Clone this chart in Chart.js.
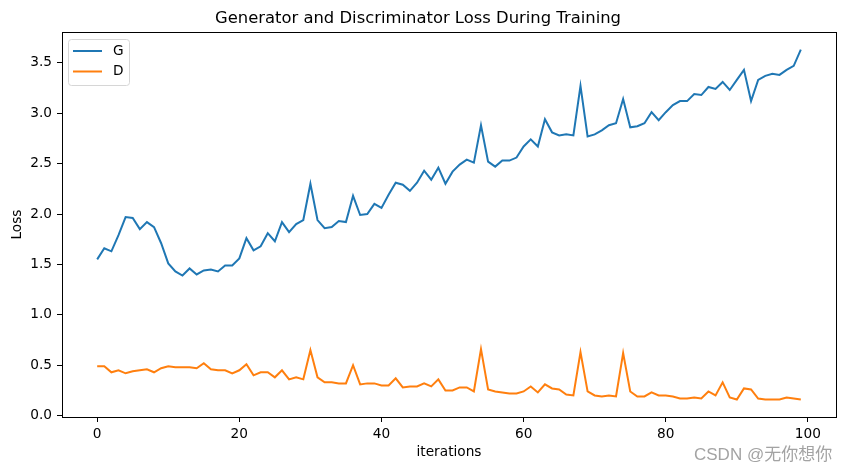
<!DOCTYPE html>
<html>
<head>
<meta charset="utf-8">
<script src="https://cdn.jsdelivr.net/npm/chart.js@4.4.1/dist/chart.umd.min.js"></script>
<style>
  html, body { margin: 0; padding: 0; background: #fff; }
  #wrap { position: relative; width: 846px; height: 470px; }
  #mark {
    position: absolute; left: 694px; top: 440px;
    font: 17px "Liberation Sans", "Noto Sans CJK SC", sans-serif;
    color: #a3a3a3; white-space: nowrap;
  }
</style>
</head>
<body>
<div id="wrap">
  <canvas id="lossChart" width="846" height="470"></canvas>
  <div id="mark">CSDN @无你想你</div>
</div>
<script>
const G = [1.55, 1.66, 1.63, 1.79, 1.97, 1.96, 1.85, 1.92, 1.87, 1.71,
           1.51, 1.43, 1.39, 1.46, 1.40, 1.44, 1.45, 1.43, 1.49, 1.49,
           1.56, 1.76, 1.64, 1.68, 1.81, 1.73, 1.92, 1.82, 1.90, 1.94,
           2.30, 1.94, 1.86, 1.87, 1.93, 1.92, 2.18, 1.99, 2.00, 2.10,
           2.06, 2.19, 2.31, 2.29, 2.23, 2.31, 2.43, 2.34, 2.46, 2.30,
           2.42, 2.49, 2.54, 2.51, 2.88, 2.52, 2.47, 2.53, 2.53, 2.56,
           2.67, 2.74, 2.67, 2.94, 2.81, 2.78, 2.79, 2.78, 3.27, 2.77,
           2.79, 2.83, 2.88, 2.90, 3.14, 2.86, 2.87, 2.90, 3.01, 2.93,
           3.01, 3.08, 3.12, 3.12, 3.19, 3.18, 3.26, 3.24, 3.31, 3.23,
           3.33, 3.43, 3.12, 3.33, 3.37, 3.39, 3.38, 3.43, 3.47, 3.63];

const D = [0.49, 0.49, 0.43, 0.45, 0.42, 0.44, 0.45, 0.46, 0.43, 0.47,
           0.49, 0.48, 0.48, 0.48, 0.47, 0.52, 0.46, 0.45, 0.45, 0.42,
           0.45, 0.51, 0.40, 0.43, 0.43, 0.38, 0.45, 0.36, 0.38, 0.36,
           0.65, 0.38, 0.33, 0.33, 0.32, 0.32, 0.50, 0.31, 0.32, 0.32,
           0.30, 0.30, 0.37, 0.28, 0.29, 0.29, 0.32, 0.29, 0.36, 0.25,
           0.25, 0.28, 0.28, 0.24, 0.66, 0.26, 0.24, 0.23, 0.22, 0.22,
           0.24, 0.29, 0.23, 0.31, 0.27, 0.26, 0.21, 0.20, 0.63, 0.24,
           0.20, 0.19, 0.20, 0.19, 0.62, 0.24, 0.19, 0.19, 0.23, 0.20,
           0.20, 0.19, 0.17, 0.17, 0.18, 0.17, 0.24, 0.20, 0.33, 0.18,
           0.16, 0.27, 0.26, 0.17, 0.16, 0.16, 0.16, 0.18, 0.17, 0.16];

const iterations = Array.from({ length: G.length }, (_, i) => i);
const xTicks = [0, 20, 40, 60, 80, 100];
const yTicks = [0.0, 0.5, 1.0, 1.5, 2.0, 2.5, 3.0, 3.5];

const FONT = '"DejaVu Sans", sans-serif';

// matplotlib-style frame + legend in the upper left
const framePlugin = {
  id: 'frame',
  afterDatasetsDraw(chart) {
    const { ctx, chartArea: a } = chart;
    ctx.save();
    ctx.strokeStyle = '#000';
    ctx.lineWidth = 1;
    ctx.strokeRect(Math.round(a.left) + 0.5, Math.round(a.top) + 0.5,
                   Math.round(a.right - a.left), Math.round(a.bottom - a.top));

    const bx = 68, by = 39, bw = 61, bh = 46, r = 3;
    ctx.beginPath();
    ctx.roundRect(bx + 0.5, by + 0.5, bw, bh, r);
    ctx.fillStyle = 'rgba(255,255,255,0.8)';
    ctx.fill();
    ctx.strokeStyle = '#d6d6d6';
    ctx.stroke();

    ctx.font = '13.7px ' + FONT;
    ctx.textBaseline = 'middle';
    chart.data.datasets.forEach((ds, i) => {
      const y = 51 + i * 20.5;
      ctx.beginPath();
      ctx.moveTo(73, y);
      ctx.lineTo(102, y);
      ctx.strokeStyle = ds.borderColor;
      ctx.lineWidth = 2;
      ctx.stroke();
      ctx.fillStyle = '#000';
      ctx.fillText(ds.label, 113, y);
    });
    ctx.restore();
  }
};

new Chart(document.getElementById('lossChart').getContext('2d'), {
  type: 'line',
  data: {
    datasets: [
      {
        label: 'G',
        data: iterations.map((x, i) => ({ x: x, y: G[i] })),
        borderColor: '#1f77b4',
        borderWidth: 2,
        pointRadius: 0,
        tension: 0
      },
      {
        label: 'D',
        data: iterations.map((x, i) => ({ x: x, y: D[i] })),
        borderColor: '#ff7f0e',
        borderWidth: 2,
        pointRadius: 0,
        tension: 0
      }
    ]
  },
  options: {
    responsive: false,
    animation: false,
    devicePixelRatio: 1,
    layout: { padding: { left: 0, right: 10, top: 0, bottom: 0 } },
    plugins: {
      legend: { display: false },
      tooltip: { enabled: false },
      title: {
        display: true,
        text: 'Generator and Discriminator Loss During Training',
        color: '#000',
        font: { family: FONT, size: 16.4, weight: 'normal' },
        padding: { top: 9, bottom: 3.5 }
      }
    },
    scales: {
      x: {
        type: 'linear',
        min: -4.95,
        max: 103.95,
        afterBuildTicks: (s) => { s.ticks = xTicks.map(v => ({ value: v })); },
        afterFit: (s) => { s.height = 53; },
        grid: { drawOnChartArea: false, drawTicks: true, tickLength: 5, tickColor: '#000' },
        border: { display: true, color: '#000' },
        ticks: {
          autoSkip: false, maxRotation: 0, padding: 4, color: '#000',
          font: { family: FONT, size: 13.7 }
        },
        title: {
          display: true, text: 'iterations', color: '#000',
          font: { family: FONT, size: 13.7 },
          padding: { top: 0, bottom: 9 }
        }
      },
      y: {
        min: -0.0135,
        max: 3.8035,
        afterBuildTicks: (s) => { s.ticks = yTicks.map(v => ({ value: v })); },
        afterFit: (s) => { s.width = 62; },
        grid: { drawOnChartArea: false, drawTicks: true, tickLength: 5, tickColor: '#000' },
        border: { display: true, color: '#000' },
        ticks: {
          padding: 5, color: '#000',
          font: { family: FONT, size: 13.7 },
          callback: (v) => v.toFixed(1)
        },
        title: {
          display: true, text: 'Loss', color: '#000',
          font: { family: FONT, size: 13.7 },
          padding: { top: 9, bottom: 0 }
        }
      }
    }
  },
  plugins: [framePlugin]
});
</script>
</body>
</html>
